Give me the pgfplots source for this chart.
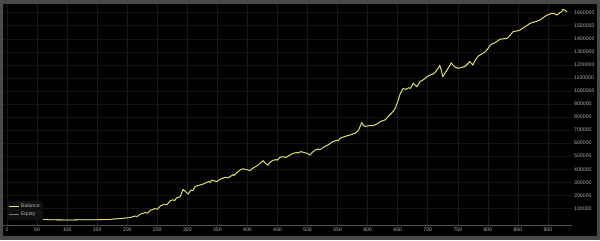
\documentclass[border=0pt]{standalone}
\usepackage{pgfplots}
\pgfplotsset{compat=1.18}
\usepackage{fontspec}
\setmainfont{Liberation Sans}
\definecolor{frame}{HTML}{4A4A4A}
\definecolor{gridx}{HTML}{1A1A1A}
\definecolor{gridy}{HTML}{141414}
\definecolor{axc}{HTML}{505050}
\definecolor{labc}{HTML}{B0B0B0}
\definecolor{bal}{HTML}{E8E660}
\definecolor{eq}{HTML}{7A7A7A}
\definecolor{legbg}{HTML}{101010}
\pgfplotstableread{
x y
0 18000
30 17000
50 16000
80 12000
105 11000
125 12500
138 12000
160 14000
170 15000
188 22000
200 27000
205 30000
213 41000
217 38000
221 55000
230 68000
234 64000
238 84000
246 98000
250 94000
255 118000
262 132000
266 128000
271 156000
276 166000
279 160000
282 180000
288 189000
293 245000
297 228000
301 210000
306 240000
309 236000
313 268000
317 274000
321 279000
325 284000
329 292000
335 305000
338 299000
341 317000
345 311000
349 304000
353 318000
358 331000
364 338000
367 333000
371 343000
376 358000
378 352000
381 369000
385 385000
388 394000
392 403000
396 400000
400 396000
404 389000
408 405000
413 419000
417 430000
421 446000
426 465000
430 445000
434 432000
437 450000
441 465000
447 474000
450 470000
454 492000
460 496000
464 490000
468 502000
472 512000
476 522000
482 528000
485 524000
488 535000
493 530000
499 522000
504 509000
508 530000
513 548000
518 555000
521 551000
524 561000
529 575000
534 586000
538 598000
542 611000
548 622000
551 618000
554 637000
558 645000
562 650000
566 657000
571 663000
575 670000
579 676000
583 690000
585 701000
590 757000
593 735000
596 728000
600 732000
604 735000
608 733000
612 739000
617 752000
621 765000
625 772000
629 778000
634 803000
638 822000
642 841000
646 868000
651 931000
654 977000
659 1019000
664 1012000
668 1025000
671 1020000
676 1059000
679 1046000
682 1033000
687 1071000
692 1084000
696 1098000
699 1110000
704 1123000
709 1130000
712 1142000
715 1161000
718 1178000
720 1196000
723 1150000
725 1111000
729 1140000
732 1161000
736 1190000
739 1215000
742 1198000
745 1184000
750 1174000
756 1180000
762 1188000
766 1206000
770 1225000
773 1210000
775 1199000
779 1235000
784 1268000
790 1285000
795 1299000
799 1318000
804 1353000
810 1366000
815 1380000
820 1397000
826 1400000
832 1404000
837 1428000
842 1455000
848 1460000
854 1468000
858 1482000
862 1493000
866 1505000
870 1519000
878 1530000
883 1538000
887 1545000
893 1566000
899 1583000
904 1592000
908 1596000
912 1590000
915 1583000
919 1598000
923 1608000
925 1627000
929 1615000
932 1608000
}\bal
\begin{document}
\begin{tikzpicture}[x=1bp,y=1bp]
\fill[frame] (0,0) rectangle (600,240);
\fill[black] (3,4) rectangle (597,236);
\begin{axis}[
  at={(3bp,15bp)}, anchor=south west,
  scale only axis, width=569bp, height=221bp,
  xmin=-6.7, xmax=940, ymin=-27600, ymax=1667000,
  axis x line*=bottom, axis y line*=right,
  y axis line style={draw=none},
  x axis line style={axc, line width=0.8bp},
  xtick={0,50,...,900},
  ytick={100000,200000,...,1600000},
  scaled y ticks=false,
  /pgf/number format/.cd, fixed, 1000 sep={}, assume math mode=true,
  /pgfplots/.cd,
  grid=major,
  x grid style={gridx, line width=0.6bp},
  y grid style={gridy, line width=0.6bp},
  major tick length=0pt,
  tick label style={labc, font=\fontsize{5.2}{6}\selectfont},
  xticklabel style={yshift=1bp},
  yticklabel style={anchor=west, inner sep=0pt, xshift=2bp},
  reverse legend,
  legend style={at={(rel axis cs:0.007,0.023)}, anchor=south west,
    fill=legbg, draw=none, inner sep=1bp,
    font=\fontsize{5.2}{6}\selectfont, text=labc,
    row sep=-1.5bp, cells={anchor=west}},
  legend image code/.code={\draw[#1] (0bp,0bp) -- (10bp,0bp);},
]
\addplot[eq, line width=0.8bp] table[x=x,y=y] {\bal};
\addplot[bal, line width=0.8bp] table[x=x,y=y] {\bal};
\legend{Equity,Balance}
\end{axis}
\end{tikzpicture}
\end{document}
